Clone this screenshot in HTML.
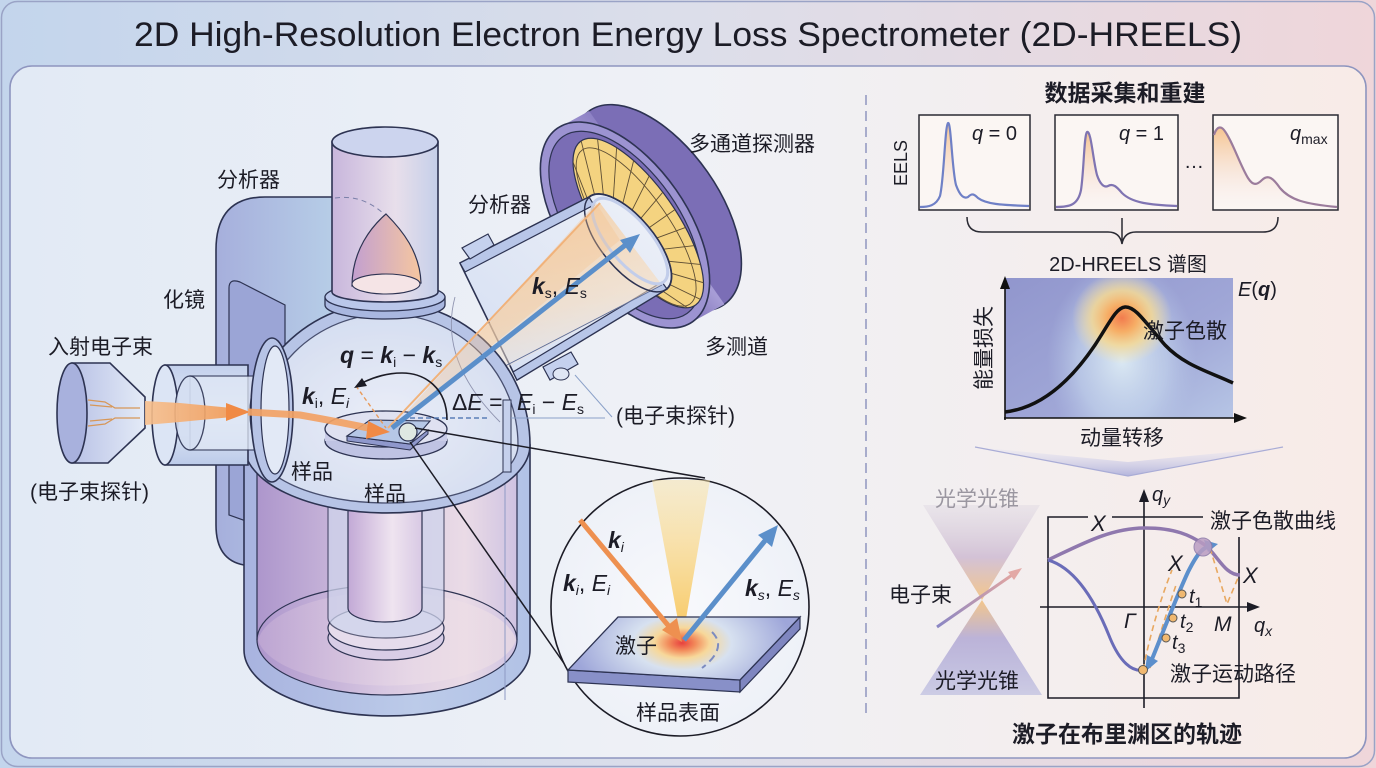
<!DOCTYPE html>
<html><head><meta charset="utf-8"><style>
html,body{margin:0;padding:0;width:1376px;height:768px;overflow:hidden;background:#dde3ee}
svg{display:block}
text{font-family:"Liberation Sans","Noto Sans CJK SC",sans-serif;fill:#1c1c26}
.cj{font-size:21px}
.bi{font-weight:bold;font-style:italic}
.it{font-style:italic}
</style></head><body>
<svg width="1376" height="768" viewBox="0 0 1376 768" xmlns="http://www.w3.org/2000/svg">
<defs>
 <linearGradient id="bgO" x1="0" x2="1"><stop offset="0" stop-color="#c3d5ec"/><stop offset="0.5" stop-color="#dcdeea"/><stop offset="1" stop-color="#efd6da"/></linearGradient>
 <linearGradient id="bgI" x1="0" x2="1"><stop offset="0" stop-color="#e2eaf5"/><stop offset="0.5" stop-color="#eff1f6"/><stop offset="1" stop-color="#f8ebe7"/></linearGradient>
 <linearGradient id="house" x1="0" x2="1"><stop offset="0" stop-color="#a6afdc"/><stop offset="1" stop-color="#b8d0e8"/></linearGradient>
 <linearGradient id="wall" x1="0" x2="1"><stop offset="0" stop-color="#a8b3df"/><stop offset="0.6" stop-color="#bccbe9"/><stop offset="1" stop-color="#b2c2e6"/></linearGradient>
 <linearGradient id="pink" x1="0" x2="1"><stop offset="0" stop-color="#ad96cc"/><stop offset="0.5" stop-color="#d9c9e2"/><stop offset="0.8" stop-color="#eadbe6"/><stop offset="1" stop-color="#cfc3e2"/></linearGradient>
 <linearGradient id="floor" x1="0" x2="1"><stop offset="0" stop-color="#c6aed6"/><stop offset="0.6" stop-color="#ecdde8"/><stop offset="1" stop-color="#efe0e4"/></linearGradient>
 <linearGradient id="col" x1="0" x2="1"><stop offset="0" stop-color="#c2a9d6"/><stop offset="0.6" stop-color="#efe4f0"/><stop offset="1" stop-color="#d8c9e4"/></linearGradient>
 <linearGradient id="topcyl" x1="0" x2="1"><stop offset="0" stop-color="#c8b6dc"/><stop offset="0.6" stop-color="#e8dfeb"/><stop offset="1" stop-color="#c5cfe9"/></linearGradient>
 <linearGradient id="bullet" x1="0" x2="1"><stop offset="0" stop-color="#c29fd0"/><stop offset="1" stop-color="#f6c7a0"/></linearGradient>
 <radialGradient id="domeIn" cx="0.5" cy="0.55" r="0.6"><stop offset="0" stop-color="#f7f8fc"/><stop offset="1" stop-color="#dbe3f3"/></radialGradient>
 <linearGradient id="tube" x1="0" x2="1" y1="1" y2="0"><stop offset="0" stop-color="#d4def2"/><stop offset="1" stop-color="#eef1f8"/></linearGradient>
 <linearGradient id="cone" x1="0" y1="0" x2="0.3" y2="1"><stop offset="0" stop-color="#f5c48e" stop-opacity="0.85"/><stop offset="0.6" stop-color="#f7dcbc" stop-opacity="0.6"/><stop offset="1" stop-color="#e4eaf6" stop-opacity="0.3"/></linearGradient>
 <linearGradient id="ring" x1="0" x2="1" y1="0" y2="1"><stop offset="0" stop-color="#8c80c4"/><stop offset="0.5" stop-color="#a79dd6"/><stop offset="1" stop-color="#7f72ba"/></linearGradient>
 <linearGradient id="gun" x1="0" x2="1"><stop offset="0" stop-color="#b9c2e6"/><stop offset="1" stop-color="#e4ebf7"/></linearGradient>
 <linearGradient id="lens" x1="0" x2="0" y1="0" y2="1"><stop offset="0" stop-color="#c3d0ec"/><stop offset="0.5" stop-color="#e6edf8"/><stop offset="1" stop-color="#bccbe9"/></linearGradient>
 <linearGradient id="beam" x1="0" x2="1"><stop offset="0" stop-color="#f7c08e"/><stop offset="1" stop-color="#f29a55"/></linearGradient>
 <radialGradient id="inset" cx="0.5" cy="0.5" r="0.5"><stop offset="0" stop-color="#f8f9fc"/><stop offset="1" stop-color="#eef1f8"/></radialGradient>
 <linearGradient id="ycone" x1="0" x2="0" y1="0" y2="1"><stop offset="0" stop-color="#fbe4a6" stop-opacity="0.5"/><stop offset="1" stop-color="#f7c458"/></linearGradient>
 <radialGradient id="glow" cx="682" cy="643" r="110" gradientUnits="userSpaceOnUse" gradientTransform="translate(682 643) scale(1 0.55) translate(-682 -643)"><stop offset="0" stop-color="#e8403e"/><stop offset="0.12" stop-color="#f28a5a"/><stop offset="0.25" stop-color="#f7d89a"/><stop offset="0.45" stop-color="#d7e1f0"/><stop offset="1" stop-color="#9ea6d9"/></radialGradient>
 <linearGradient id="eelsF" x1="0" x2="0" y1="0" y2="1"><stop offset="0" stop-color="#f6bf84" stop-opacity="0.9"/><stop offset="1" stop-color="#f3e2e8" stop-opacity="0"/></linearGradient>
 <linearGradient id="hmBg" x1="0" y1="0" x2="1" y2="1"><stop offset="0" stop-color="#9196cd"/><stop offset="0.6" stop-color="#a0a7d7"/><stop offset="1" stop-color="#b6c5e5"/></linearGradient>
 <radialGradient id="hmBlue" cx="0.5" cy="0.5" r="0.5"><stop offset="0" stop-color="#dbe9f3"/><stop offset="0.6" stop-color="#c6d8ee" stop-opacity="0.6"/><stop offset="1" stop-color="#b6c6e6" stop-opacity="0"/></radialGradient>
 <radialGradient id="hmHot" cx="0.5" cy="0.5" r="0.5"><stop offset="0" stop-color="#f27c4e"/><stop offset="0.3" stop-color="#f6ae66"/><stop offset="0.6" stop-color="#f7d88e" stop-opacity="0.8"/><stop offset="1" stop-color="#f7e3a8" stop-opacity="0"/></radialGradient>
 <linearGradient id="chev" x1="0" x2="0" y1="0" y2="1"><stop offset="0" stop-color="#e8e6f2" stop-opacity="0.3"/><stop offset="1" stop-color="#b3b4dc"/></linearGradient>
 <linearGradient id="hgTop" x1="0" x2="0" y1="0" y2="1"><stop offset="0" stop-color="#dcd5e0" stop-opacity="0.4"/><stop offset="0.55" stop-color="#d3c2d6"/><stop offset="1" stop-color="#f3c68c"/></linearGradient>
 <linearGradient id="hgBot" x1="0" x2="0" y1="0" y2="1"><stop offset="0" stop-color="#f3c68c"/><stop offset="0.4" stop-color="#bcb3d8"/><stop offset="1" stop-color="#a7a9d9" stop-opacity="0.5"/></linearGradient>
 <linearGradient id="ebeam" x1="0" x2="1"><stop offset="0" stop-color="#8a86c4"/><stop offset="1" stop-color="#e4a6a0"/></linearGradient>
 <clipPath id="faceClip"><ellipse cx="6" cy="-12" rx="100" ry="38"/></clipPath>
 <clipPath id="hmClip"><rect x="1005" y="278" width="228" height="140"/></clipPath>
</defs>

<!-- background -->
<rect x="0" y="0" width="1376" height="768" fill="url(#bgO)"/>
<rect x="1.5" y="1.5" width="1373" height="765" rx="16" fill="none" stroke="#9aa3c6" stroke-width="1.5"/>
<text x="688" y="46" font-size="34" text-anchor="middle" textLength="1108" lengthAdjust="spacingAndGlyphs" fill="#1a1a22">2D High-Resolution Electron Energy Loss Spectrometer (2D-HREELS)</text>
<rect x="10" y="66" width="1356" height="692" rx="22" fill="url(#bgI)" stroke="#8e95bf" stroke-width="1.6"/>

<!-- divider -->
<line x1="866" y1="95" x2="866" y2="716" stroke="#8f96c0" stroke-width="1.5" stroke-dasharray="10 6"/>

<!-- ================= LEFT: apparatus ================= -->
<path d="M216,525 L216,250 Q216,197 265,197 L345,197 L345,565 L244,565 Q216,560 216,525 Z" fill="url(#house)" stroke="#2d3352" stroke-width="1.6"/>
<path d="M229,515 L229,288 Q229,278 240,282 L285,305 L285,535 Z" fill="#9ba5d6" stroke="#2d3352" stroke-width="1.2"/>

<!-- lower cylinder -->
<path d="M244,445 L244,650 A143,66 0 0 0 530,650 L530,445 Z" fill="url(#wall)" stroke="#2d3352" stroke-width="1.6"/>
<path d="M257,455 L257,640 A130,55 0 0 0 517,640 L517,455 Z" fill="url(#pink)" stroke="#2d3352" stroke-width="1.2"/>
<path d="M257,640 A130,55 0 0 1 517,640" fill="none" stroke="#2d3352" stroke-width="1.2"/>
<path d="M258,640 A130,52 0 0 0 516,640 A130,55 0 0 0 258,640 Z" fill="url(#floor)" opacity="0.6"/>
<ellipse cx="386" cy="638" rx="58" ry="22" fill="#d8cde6" stroke="#2d3352" stroke-width="1.2"/>
<ellipse cx="386" cy="628" rx="58" ry="22" fill="#e6dcec" stroke="#2d3352" stroke-width="1.2"/>
<path d="M328,500 L328,618 A58,20 0 0 0 444,618 L444,500 Z" fill="#cfd4ec" opacity="0.75" stroke="#2d3352" stroke-width="1.2"/>
<path d="M348,500 L348,608 A37,14 0 0 0 422,608 L422,500 Z" fill="url(#col)" stroke="#2d3352" stroke-width="1.2"/>
<line x1="505" y1="400" x2="505" y2="700" stroke="#8e9ac4" stroke-width="1"/>

<!-- detector -->
<g transform="translate(625,225) rotate(55)">
 <ellipse cx="4" cy="-36" rx="118" ry="62" fill="#7b6eb6" stroke="#2d3352" stroke-width="1.6"/>
 <polygon points="-118,0 -114,-36 122,-36 118,0" fill="url(#ring)"/>
 <ellipse cx="0" cy="0" rx="118" ry="62" fill="#9c93d1" stroke="#2d3352" stroke-width="1.6"/>
 <ellipse cx="0" cy="0" rx="108" ry="54" fill="#7a6db5" stroke="#2d3352" stroke-width="1.2"/>
 <ellipse cx="6" cy="-12" rx="100" ry="38" fill="#f4d380" stroke="#2d3352" stroke-width="1.2"/>
 <g clip-path="url(#faceClip)" stroke="#5e4e34" stroke-width="0.9" fill="none">
  <line x1="16" y1="30" x2="-132" y2="13"/><line x1="16" y1="30" x2="-125" y2="-4"/>
  <line x1="16" y1="30" x2="-114" y2="-20"/><line x1="16" y1="30" x2="-99" y2="-34"/>
  <line x1="16" y1="30" x2="-80" y2="-47"/><line x1="16" y1="30" x2="-59" y2="-57"/>
  <line x1="16" y1="30" x2="-35" y2="-64"/><line x1="16" y1="30" x2="-10" y2="-68"/>
  <line x1="16" y1="30" x2="16" y2="-70"/><line x1="16" y1="30" x2="42" y2="-68"/>
  <line x1="16" y1="30" x2="67" y2="-64"/><line x1="16" y1="30" x2="91" y2="-57"/>
  <line x1="16" y1="30" x2="112" y2="-47"/><line x1="16" y1="30" x2="131" y2="-34"/>
  <line x1="16" y1="30" x2="146" y2="-20"/><line x1="16" y1="30" x2="157" y2="-4"/>
  <line x1="16" y1="30" x2="164" y2="13"/>
  <ellipse cx="8" cy="-8" rx="94" ry="32"/>
 </g>
</g>

<!-- analyzer tube -->
<path d="M460,263 L589,197 A60,26 50 0 1 667,289 L517,380 Z" fill="url(#tube)" stroke="#2d3352" stroke-width="1.6"/>
<polygon points="460,263 589,197 594,205 465,272" fill="#b8c6e8" stroke="#2d3352" stroke-width="1.2"/>
<polygon points="517,380 667,289 662,282 513,372" fill="#b8c6e8" stroke="#2d3352" stroke-width="1.2"/>
<polygon points="470,259 462,248 488,234 494,245" fill="#c5d1ee" stroke="#2d3352" stroke-width="1.2"/>
<polygon points="543,367 550,380 578,364 571,352" fill="#c5d1ee" stroke="#2d3352" stroke-width="1.2"/>
<ellipse cx="561" cy="374" rx="8" ry="6" fill="#dfe6f4" stroke="#2d3352" stroke-width="1"/>
<polygon points="392,428 600,203 662,285" fill="url(#cone)"/>
<line x1="420" y1="410" x2="662" y2="285" stroke="#5c6c98" stroke-width="0.9"/>
<ellipse cx="628" cy="243" rx="60" ry="26" transform="rotate(50 628 243)" fill="none" stroke="#2d3352" stroke-width="1.5"/>
<ellipse cx="630" cy="241" rx="53" ry="21" transform="rotate(50 630 241)" fill="none" stroke="#c2cdea" stroke-width="3"/>

<!-- dome -->
<path d="M244,445 A143,143 0 0 1 530,445 A143,68 0 0 1 244,445 Z" fill="#b7c4e6" stroke="#2d3352" stroke-width="1.6"/>
<path d="M256,445 A131,131 0 0 1 518,445 A131,58 0 0 1 256,445 Z" fill="url(#domeIn)" opacity="0.8" stroke="#2d3352" stroke-width="1.3"/>
<path d="M455,297 Q438,360 500,422" fill="none" stroke="#8f94b0" stroke-width="0.9"/>
<polygon points="392,428 596,203 620,240" fill="#f6c48c" opacity="0.35"/>
<rect x="503" y="400" width="8" height="72" fill="#c5d0ec" stroke="#2d3352" stroke-width="1"/>
<line x1="511" y1="418" x2="605" y2="418" stroke="#8aa0c8" stroke-width="1"/>
<polyline points="575,375 612,417" fill="none" stroke="#8aa0c8" stroke-width="1"/>

<!-- top cylinder -->
<path d="M325,297 L325,305 A60,14 0 0 0 445,305 L445,297 Z" fill="#a9b7e0" stroke="#2d3352" stroke-width="1.3"/>
<ellipse cx="385" cy="297" rx="60" ry="14" fill="#bac7ea" stroke="#2d3352" stroke-width="1.3"/>
<path d="M332,142 L332,292 A53,10 0 0 0 438,292 L438,142 Z" fill="url(#topcyl)" stroke="#2d3352" stroke-width="1.6"/>
<ellipse cx="385" cy="142" rx="53" ry="15" fill="#ccd4ee" stroke="#2d3352" stroke-width="1.6"/>
<path d="M335,198 Q362,194 384,214" fill="none" stroke="#7a7fa8" stroke-width="1" stroke-dasharray="5 4"/>
<path d="M352,286 C352,250 372,226 386,214 C402,230 420,252 421,283 Z" fill="url(#bullet)" stroke="#2d3352" stroke-width="1.2"/>
<ellipse cx="386" cy="284" rx="34" ry="10" fill="#f5e4e6" stroke="#2d3352" stroke-width="1.1"/>

<!-- stage & sample -->
<ellipse cx="386" cy="441" rx="61" ry="18" fill="#bfc3e3" stroke="#2d3352" stroke-width="1.3"/>
<rect x="325" y="429" width="122" height="12" fill="#c9cce8"/>
<ellipse cx="386" cy="429" rx="61" ry="18" fill="#dfe1f1" stroke="#2d3352" stroke-width="1.3"/>
<polygon points="347,436 347,441 410,450 428,434 428,430 410,444" fill="#8f98cc" stroke="#2d3352" stroke-width="1"/>
<polygon points="347,436 370,420 430,421 410,444" fill="#b6c7e6" stroke="#2d3352" stroke-width="1.1"/>
<circle cx="408" cy="432" r="9" fill="#dfe8e2" stroke="#2d3352" stroke-width="1.2"/>

<!-- beams -->
<line x1="388" y1="428" x2="600" y2="203" stroke="#f1b27a" stroke-width="2"/>
<line x1="392" y1="428" x2="628" y2="243" stroke="#5b8fca" stroke-width="5"/>
<polygon points="640,234 620,240 630,253" fill="#5b8fca"/>
<line x1="356" y1="386" x2="386" y2="428" stroke="#e89a5a" stroke-width="1.4" stroke-dasharray="4 3"/>
<line x1="410" y1="418" x2="490" y2="418" stroke="#5b7fb8" stroke-width="1.4" stroke-dasharray="5 3"/>
<path d="M447,420 C447,388 425,373 402,373 C385,373 372,378 362,383" fill="none" stroke="#1c1c26" stroke-width="1.6"/>
<polygon points="354,388 362,378 367,386" fill="#1c1c26"/>

<!-- gun -->
<path d="M72,363 L110,363 L145,397 L145,428 L108,463 L72,463 Z" fill="url(#gun)" stroke="#2d3352" stroke-width="1.6"/>
<ellipse cx="72" cy="413" rx="15" ry="50" fill="#a8b1dd" stroke="#2d3352" stroke-width="1.6"/>
<g stroke="#d79758" stroke-width="1.3" fill="none">
 <path d="M88,400 L105,402 L115,408 L140,408"/><path d="M88,426 L105,424 L115,418 L140,418"/>
 <path d="M90,405 L112,407"/><path d="M90,421 L112,419"/>
</g>
<!-- lens -->
<path d="M165,365 L248,365 L248,465 L165,465 Z" fill="url(#lens)" stroke="#2d3352" stroke-width="1.6"/>
<ellipse cx="165" cy="415" rx="13" ry="50" fill="#dce5f5" stroke="#2d3352" stroke-width="1.6"/>
<path d="M190,376 L262,376 L262,450 L190,450 Z" fill="#dfe7f5" opacity="0.8" stroke="#2d3352" stroke-width="1.3"/>
<ellipse cx="190" cy="413" rx="15" ry="37" fill="#d5dff2" opacity="0.9" stroke="#2d3352" stroke-width="1.3"/>
<ellipse cx="262" cy="413" rx="12" ry="37" fill="none" stroke="#2d3352" stroke-width="1"/>
<polygon points="145,401 180,403 232,408 232,417 180,422 145,425" fill="url(#beam)" opacity="0.9"/>
<polygon points="226,403 250,412 226,421" fill="#f08a45"/>
<ellipse cx="272" cy="410" rx="21" ry="72" fill="#b7c4e6" stroke="#2d3352" stroke-width="1.6"/>
<ellipse cx="275" cy="410" rx="14" ry="64" fill="#e2e9f6" stroke="#2d3352" stroke-width="1.2"/>
<path d="M248,412 L300,415 Q340,422 378,430" fill="none" stroke="#f2a265" stroke-width="7" opacity="0.92"/>
<polygon points="368,421 390,432 366,439" fill="#f08a45"/>

<!-- connection lines + inset -->
<line x1="415" y1="428" x2="705" y2="478" stroke="#1c1c26" stroke-width="1.5"/>
<line x1="410" y1="442" x2="570" y2="672" stroke="#1c1c26" stroke-width="1.5"/>
<circle cx="680" cy="607" r="129" fill="url(#inset)" stroke="#1c1c26" stroke-width="1.6"/>
<polygon points="652,480 710,480 682,642" fill="url(#ycone)"/>
<polygon points="568,670 740,680 740,692 568,682" fill="#8890c8" stroke="#2d3352" stroke-width="1.2"/>
<polygon points="740,680 800,617 800,629 740,692" fill="#7f86c0" stroke="#2d3352" stroke-width="1.2"/>
<polygon points="618,617 800,617 740,680 568,670" fill="url(#glow)" stroke="#2d3352" stroke-width="1.3"/>
<path d="M712,632 Q728,648 702,668" fill="none" stroke="#7c8bc0" stroke-width="2" stroke-dasharray="8 5"/>
<line x1="580" y1="520" x2="672" y2="630" stroke="#ee9050" stroke-width="5"/>
<polygon points="682,642 662,630 677,618" fill="#ee9050"/>
<line x1="684" y1="640" x2="768" y2="537" stroke="#5b8fca" stroke-width="5"/>
<polygon points="778,525 772,547 758,535" fill="#5b8fca"/>

<!-- left labels -->
<text x="217" y="187" class="cj">分析器</text>
<text x="163" y="307" class="cj">化镜</text>
<text x="48" y="354" class="cj">入射电子束</text>
<text x="30" y="499" class="cj">(电子束探针)</text>
<text x="468" y="212" class="cj">分析器</text>
<text x="689" y="151" class="cj">多通道探测器</text>
<text x="705" y="354" class="cj">多测道</text>
<text x="616" y="423" class="cj">(电子束探针)</text>
<text x="291" y="479" class="cj">样品</text>
<text x="364" y="501" class="cj">样品</text>
<text x="340" y="363" font-size="23"><tspan class="bi">q</tspan> = <tspan class="bi">k</tspan><tspan font-size="14" dy="4">i</tspan><tspan dy="-4"> − </tspan><tspan class="bi">k</tspan><tspan font-size="14" dy="4">s</tspan></text>
<text x="302" y="404" font-size="23"><tspan class="bi">k</tspan><tspan font-size="14" dy="4">i</tspan><tspan dy="-4">, </tspan><tspan class="it">E</tspan><tspan font-size="14" dy="4" class="it">i</tspan></text>
<text x="452" y="410" font-size="23">Δ<tspan class="it">E</tspan> =<tspan x="517" class="it">E</tspan><tspan font-size="14" dy="4">i</tspan><tspan dy="-4"> − </tspan><tspan class="it">E</tspan><tspan font-size="14" dy="4">s</tspan></text>
<text x="532" y="294" font-size="23"><tspan class="bi">k</tspan><tspan font-size="14" dy="4">s</tspan><tspan dy="-4">, </tspan><tspan class="it">E</tspan><tspan font-size="14" dy="4">s</tspan></text>
<text x="608" y="548" font-size="23"><tspan class="bi">k</tspan><tspan font-size="14" dy="4" class="it">i</tspan></text>
<text x="563" y="591" font-size="23"><tspan class="bi">k</tspan><tspan font-size="14" dy="4" class="it">i</tspan><tspan dy="-4">, </tspan><tspan class="it">E</tspan><tspan font-size="14" dy="4" class="it">i</tspan></text>
<text x="745" y="596" font-size="23"><tspan class="bi">k</tspan><tspan font-size="14" dy="4" class="it">s</tspan><tspan dy="-4">, </tspan><tspan class="it">E</tspan><tspan font-size="14" dy="4" class="it">s</tspan></text>
<text x="615" y="653" class="cj">激子</text>
<text x="636" y="720" class="cj">样品表面</text>

<!-- ================= RIGHT panel ================= -->
<text x="1125" y="101" font-size="23" font-weight="bold" text-anchor="middle">数据采集和重建</text>
<text transform="translate(907,163) rotate(-90)" font-size="18" text-anchor="middle">EELS</text>
<rect x="919" y="115" width="111" height="95" fill="#fbf6f3" stroke="#2a2a33" stroke-width="1.5"/>
<path d="M920,207 C928,207 936,206 940,196 C944,180 945,125 948,123 C951,121 952,170 956,185 C960,196 964,199 968,197 C972,193 974,194 978,198 C986,204 1000,205 1029,206 L1029,209 L920,209 Z" fill="url(#eelsF)"/>
<path d="M920,207 C928,207 936,206 940,196 C944,180 945,125 948,123 C951,121 952,170 956,185 C960,196 964,199 968,197 C972,193 974,194 978,198 C986,204 1000,205 1029,206" fill="none" stroke="#6f80c6" stroke-width="2.2"/>
<rect x="1055" y="115" width="123" height="95" fill="#fbf6f3" stroke="#2a2a33" stroke-width="1.5"/>
<path d="M1056,207 C1070,207 1078,205 1081,190 C1084,170 1084,135 1087,132 C1091,130 1093,160 1097,175 C1100,184 1104,188 1108,186 C1113,183 1117,187 1122,193 C1132,203 1150,205 1177,206 L1177,209 L1056,209 Z" fill="url(#eelsF)"/>
<path d="M1056,207 C1070,207 1078,205 1081,190 C1084,170 1084,135 1087,132 C1091,130 1093,160 1097,175 C1100,184 1104,188 1108,186 C1113,183 1117,187 1122,193 C1132,203 1150,205 1177,206" fill="none" stroke="#7f74b2" stroke-width="2.2"/>
<rect x="1213" y="115" width="125" height="95" fill="#fbf6f3" stroke="#2a2a33" stroke-width="1.5"/>
<path d="M1214,135 C1216,128 1220,125 1224,130 C1232,140 1240,165 1248,178 C1253,186 1257,185 1262,180 C1268,174 1273,178 1280,188 C1290,200 1305,204 1337,207 L1337,209 L1214,209 Z" fill="url(#eelsF)"/>
<path d="M1214,135 C1216,128 1220,125 1224,130 C1232,140 1240,165 1248,178 C1253,186 1257,185 1262,180 C1268,174 1273,178 1280,188 C1290,200 1305,204 1337,207" fill="none" stroke="#9b7c9c" stroke-width="2.2"/>
<text x="972" y="140" font-size="20"><tspan class="it">q</tspan> = 0</text>
<text x="1119" y="140" font-size="20"><tspan class="it">q</tspan> = 1</text>
<text x="1290" y="140" font-size="20"><tspan class="it">q</tspan><tspan font-size="14" dy="4">max</tspan></text>
<text x="1184" y="168" font-size="20">…</text>
<path d="M967,217 Q967,232 982,232 L1108,232 Q1120,232 1122,244 Q1124,232 1136,232 L1263,232 Q1278,232 1278,217" fill="none" stroke="#2a2a33" stroke-width="1.5"/>
<line x1="1122" y1="218" x2="1122" y2="243" stroke="#2a2a33" stroke-width="1.5"/>
<text x="1128" y="271" font-size="20" text-anchor="middle">2D-HREELS 谱图</text>
<g clip-path="url(#hmClip)">
 <rect x="1005" y="278" width="228" height="140" fill="url(#hmBg)"/>
 <ellipse cx="1122" cy="360" rx="75" ry="100" fill="url(#hmBlue)"/>
 <ellipse cx="1122" cy="318" rx="50" ry="46" fill="url(#hmHot)"/>
</g>
<path d="M1005,412 C1040,408 1070,382 1095,345 C1110,322 1116,308 1125,307 C1135,306 1145,322 1165,345 C1185,366 1210,372 1233,383" fill="none" stroke="#111" stroke-width="3.5"/>
<line x1="1005" y1="420" x2="1005" y2="286" stroke="#111" stroke-width="1.6"/>
<polygon points="1005,276 1000,289 1010,289" fill="#111"/>
<line x1="1004" y1="418" x2="1238" y2="418" stroke="#111" stroke-width="1.6"/>
<polygon points="1247,418 1234,413 1234,423" fill="#111"/>
<text x="1238" y="296" font-size="20"><tspan class="it">E</tspan>(<tspan class="bi">q</tspan>)</text>
<text transform="translate(991,348) rotate(-90)" font-size="21" text-anchor="middle">能量损失</text>
<text x="1143" y="338" font-size="21">激子色散</text>
<text x="1122" y="445" font-size="21" text-anchor="middle">动量转移</text>
<polygon points="975,447 1128,476 1283,447 1128,462" fill="url(#chev)"/>
<polyline points="975,447 1128,476 1283,447" fill="none" stroke="#a9acd6" stroke-width="1.2"/>

<polygon points="923,505 1040,505 982,600" fill="url(#hgTop)"/>
<polygon points="982,600 920,695 1042,695" fill="url(#hgBot)"/>
<text x="935" y="506" font-size="21" style="fill:#9a96a0">光学光锥</text>
<text x="935" y="688" font-size="21">光学光锥</text>
<text x="889" y="602" font-size="21">电子束</text>
<line x1="937" y1="627" x2="1015" y2="573" stroke="url(#ebeam)" stroke-width="3"/>
<polygon points="1022,568 1008,572 1014,580" fill="#e3a9a6"/>

<g stroke="#1c1c26" stroke-width="1.6" fill="none">
 <polyline points="1088,517 1048,517 1048,698 1239,698 1239,537"/>
 <line x1="1112" y1="517" x2="1203" y2="517"/>
</g>
<line x1="1144" y1="708" x2="1144" y2="500" stroke="#1c1c26" stroke-width="1.6"/>
<polygon points="1144,489 1139,502 1149,502" fill="#1c1c26"/>
<line x1="1040" y1="607" x2="1250" y2="607" stroke="#1c1c26" stroke-width="1.6"/>
<polygon points="1260,607 1247,602 1247,612" fill="#1c1c26"/>
<path d="M1048,560 C1080,545 1110,528 1145,528 C1175,528 1190,535 1205,545 C1218,556 1225,575 1240,575" fill="none" stroke="#8f78ae" stroke-width="3.5"/>
<path d="M1048,560 C1075,568 1095,600 1110,638 C1120,662 1132,672 1143,670" fill="none" stroke="#6a6cb8" stroke-width="3"/>
<g stroke="#e8a860" stroke-width="1.6" fill="none" stroke-dasharray="6 4">
 <path d="M1143,670 C1150,635 1160,600 1172,570"/>
 <path d="M1150,668 C1158,640 1166,615 1176,585"/>
 <path d="M1210,548 L1227,604 L1238,578"/>
</g>
<path d="M1150,664 C1162,635 1175,600 1188,572 C1198,552 1204,546 1212,546" fill="none" stroke="#5c8fcc" stroke-width="4"/>
<polygon points="1145,672 1147,655 1158,661" fill="#5c8fcc"/>
<polygon points="1218,544 1204,540 1208,552" fill="#5c8fcc"/>
<circle cx="1203" cy="547" r="9" fill="#b99cc2" opacity="0.85" stroke="#8a78a8" stroke-width="1"/>
<g fill="#f0b870" stroke="#555" stroke-width="1">
 <circle cx="1182" cy="594" r="4"/><circle cx="1173" cy="618" r="4"/><circle cx="1166" cy="638" r="4"/><circle cx="1143" cy="670" r="4.5"/>
</g>
<text x="1152" y="501" font-size="20"><tspan class="it">q</tspan><tspan font-size="14" dy="4" class="it">y</tspan></text>
<text x="1091" y="531" font-size="22" class="it">X</text>
<text x="1210" y="528" font-size="21">激子色散曲线</text>
<text x="1168" y="571" font-size="22" class="it">X</text>
<text x="1243" y="583" font-size="22" class="it">X</text>
<text x="1189" y="603" font-size="20"><tspan class="it">t</tspan><tspan font-size="14" dy="4">1</tspan></text>
<text x="1124" y="628" font-size="21" class="it">Γ</text>
<text x="1180" y="628" font-size="20"><tspan class="it">t</tspan><tspan font-size="14" dy="4">2</tspan></text>
<text x="1214" y="631" font-size="21" class="it">M</text>
<text x="1254" y="632" font-size="20"><tspan class="it">q</tspan><tspan font-size="14" dy="4" class="it">x</tspan></text>
<text x="1172" y="649" font-size="20"><tspan class="it">t</tspan><tspan font-size="14" dy="4">3</tspan></text>
<text x="1170" y="681" font-size="21">激子运动路径</text>
<text x="1127" y="742" font-size="23" font-weight="bold" text-anchor="middle">激子在布里渊区的轨迹</text>
</svg>
</body></html>
